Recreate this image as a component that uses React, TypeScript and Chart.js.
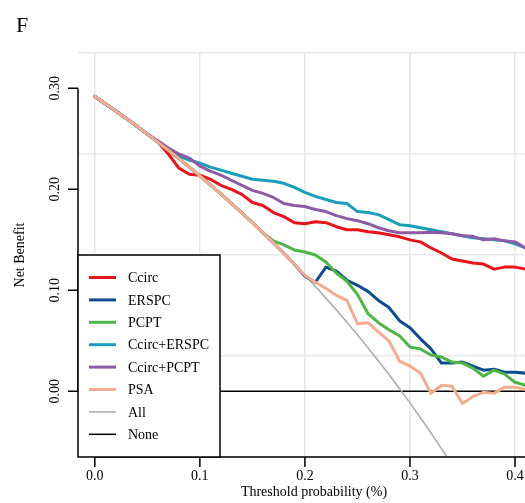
import { useEffect, useRef } from "react";
import { Chart, registerables } from "chart.js";

Chart.register(...registerables);

// Threshold probabilities (x)
const thresholds = [
  0, 0.01, 0.02, 0.03, 0.04, 0.05, 0.06, 0.07, 0.08, 0.09,
  0.1, 0.11, 0.12, 0.13, 0.14, 0.15, 0.16, 0.17, 0.18, 0.19,
  0.2, 0.21, 0.22, 0.23, 0.24, 0.25, 0.26, 0.27, 0.28, 0.29,
  0.3, 0.31, 0.32, 0.33, 0.34, 0.35, 0.36, 0.37, 0.38, 0.39,
  0.4, 0.41,
];

// Treat-all line (up to 0.34)
const allValues = [
  0.292, 0.2848, 0.2776, 0.2701, 0.2625, 0.2547, 0.2468, 0.2387, 0.2304, 0.222,
  0.2133, 0.2045, 0.1955, 0.1862, 0.1767, 0.1671, 0.1571, 0.147, 0.1366, 0.1259,
  0.115, 0.1038, 0.0923, 0.0805, 0.0684, 0.056, 0.0432, 0.0301, 0.0167, 0.0028,
  -0.0114, -0.0261, -0.0412, -0.0567, -0.0727,
];

const ccirc = [
  0.292, 0.2848, 0.2776, 0.2701, 0.2625, 0.2547, 0.2468, 0.235, 0.221, 0.215,
  0.214, 0.21, 0.204, 0.2, 0.195, 0.187, 0.184, 0.177, 0.173, 0.167,
  0.166, 0.168, 0.167, 0.163, 0.16, 0.16, 0.158, 0.157, 0.155, 0.153,
  0.15, 0.148, 0.142, 0.137, 0.131, 0.129, 0.127, 0.126, 0.121, 0.123,
  0.123, 0.121,
];

const erspc = [
  0.292, 0.2848, 0.2776, 0.2701, 0.2625, 0.2547, 0.2468, 0.2387, 0.2304, 0.222,
  0.2133, 0.2045, 0.1955, 0.1862, 0.1767, 0.1671, 0.1571, 0.147, 0.1366, 0.1259,
  0.114, 0.108, 0.123, 0.119, 0.11, 0.105, 0.099, 0.09, 0.083, 0.07,
  0.063, 0.052, 0.042, 0.028, 0.028, 0.029, 0.025, 0.021, 0.022, 0.019,
  0.019, 0.018,
];

const pcpt = [
  0.292, 0.2848, 0.2776, 0.2701, 0.2625, 0.2547, 0.2468, 0.2387, 0.2304, 0.222,
  0.2133, 0.2045, 0.1955, 0.1862, 0.1767, 0.1671, 0.1571, 0.149, 0.145, 0.14,
  0.138, 0.135, 0.128, 0.117, 0.109, 0.096, 0.077, 0.068, 0.061, 0.055,
  0.044, 0.042, 0.036, 0.034, 0.029, 0.028, 0.023, 0.015, 0.021, 0.017,
  0.009, 0.006,
];

const ccircErspc = [
  0.292, 0.2848, 0.2776, 0.2701, 0.2625, 0.2547, 0.2468, 0.239, 0.233, 0.229,
  0.226, 0.222, 0.219, 0.216, 0.213, 0.21, 0.209, 0.208, 0.206, 0.202,
  0.197, 0.193, 0.19, 0.187, 0.186, 0.178, 0.177, 0.175, 0.17, 0.165,
  0.164, 0.162, 0.16, 0.158, 0.156, 0.154, 0.152, 0.151, 0.15, 0.149,
  0.146, 0.142,
];

const ccircPcpt = [
  0.292, 0.2848, 0.2776, 0.2701, 0.2625, 0.2547, 0.248, 0.241, 0.235, 0.231,
  0.223, 0.218, 0.214, 0.209, 0.204, 0.199, 0.196, 0.192, 0.186, 0.184,
  0.183, 0.18, 0.178, 0.174, 0.171, 0.169, 0.166, 0.162, 0.159, 0.157,
  0.157, 0.157, 0.1575, 0.157, 0.156, 0.154, 0.1535, 0.15, 0.151, 0.149,
  0.148, 0.142,
];

const psa = [
  0.292, 0.2848, 0.2776, 0.2701, 0.2625, 0.2547, 0.2468, 0.2387, 0.2304, 0.222,
  0.2133, 0.2045, 0.1955, 0.1862, 0.1767, 0.1671, 0.1571, 0.147, 0.1366, 0.1259,
  0.115, 0.108, 0.102, 0.095, 0.09, 0.067, 0.068, 0.059, 0.05, 0.03,
  0.025, 0.018, -0.002, 0.006, 0.005, -0.012, -0.005, -0.001, -0.002, 0.004,
  0.004, 0.002,
];

const noneValues = [0, 0];
const noneThresholds = [0, 0.41];

const seriesNames = ["Ccirc", "ERSPC", "PCPT", "Ccirc+ERSPC", "Ccirc+PCPT", "PSA", "All", "None"];
const seriesColors = ["#E8141C", "#0C4C8E", "#4DB548", "#1A9DB7", "#8C5AA6", "#F4AC8F", "#AAAAAA", "#000000"];
const seriesWidths = [3, 3, 3, 3, 3, 3, 1.5, 1.5];

const xTicks = [0, 0.1, 0.2, 0.3, 0.4];
const xTickLabels = ["0.0", "0.1", "0.2", "0.3", "0.4"];
const yTicks = [0, 0.1, 0.2, 0.3];
const yTickLabels = ["0.00", "0.10", "0.20", "0.30"];

const panelLabel = "F";
const xTitle = "Threshold probability (%)";
const yTitle = "Net Benefit";

const SERIF = '"Liberation Serif", "Times New Roman", serif';

function pts(xs: number[], ys: number[]) {
  return ys.map((y, i) => ({ x: xs[i], y }));
}

const overlayPlugin = {
  id: "overlay",
  afterDraw(chart: any) {
    const ctx = chart.ctx as CanvasRenderingContext2D;
    const xs = chart.scales.x;
    const ys = chart.scales.y;
    const area = chart.chartArea;
    ctx.save();
    ctx.strokeStyle = "#000";
    ctx.fillStyle = "#000";
    ctx.lineWidth = 1.5;
    ctx.lineCap = "butt";
    ctx.font = "14px " + SERIF;

    // Y axis
    const yTop = ys.getPixelForValue(yTicks[yTicks.length - 1]);
    const yBot = ys.getPixelForValue(yTicks[0]);
    ctx.beginPath();
    ctx.moveTo(area.left, yTop);
    ctx.lineTo(area.left, yBot);
    yTicks.forEach((v) => {
      const py = ys.getPixelForValue(v);
      ctx.moveTo(area.left, py);
      ctx.lineTo(area.left - 10, py);
    });
    ctx.stroke();
    ctx.textAlign = "center";
    ctx.textBaseline = "middle";
    yTicks.forEach((v, i) => {
      const py = ys.getPixelForValue(v);
      ctx.save();
      ctx.translate(area.left - 23, py);
      ctx.rotate(-Math.PI / 2);
      ctx.fillText(yTickLabels[i], 0, 0);
      ctx.restore();
    });

    // X axis
    const xLeft = xs.getPixelForValue(xTicks[0]);
    ctx.beginPath();
    ctx.moveTo(xLeft, area.bottom);
    ctx.lineTo(area.right, area.bottom);
    xTicks.forEach((v) => {
      const px = xs.getPixelForValue(v);
      ctx.moveTo(px, area.bottom);
      ctx.lineTo(px, area.bottom + 10);
    });
    ctx.stroke();
    xTicks.forEach((v, i) => {
      const px = xs.getPixelForValue(v);
      ctx.fillText(xTickLabels[i], px, area.bottom + 19);
    });

    // Titles
    ctx.fillText(xTitle, 314, area.bottom + 35);
    ctx.save();
    ctx.translate(20, (area.top + area.bottom) / 2);
    ctx.rotate(-Math.PI / 2);
    ctx.fillText(yTitle, 0, 0);
    ctx.restore();

    ctx.font = "22px " + SERIF;
    ctx.textAlign = "left";
    ctx.textBaseline = "alphabetic";
    ctx.fillText(panelLabel, 16, 32);

    // Legend box
    const lx = area.left;
    const ly = 255;
    const lw = 142;
    const lh = area.bottom - ly;
    ctx.fillStyle = "#fff";
    ctx.fillRect(lx, ly, lw, lh);
    ctx.strokeStyle = "#000";
    ctx.lineWidth = 1.5;
    ctx.strokeRect(lx, ly, lw, lh);
    ctx.font = "14px " + SERIF;
    ctx.textAlign = "left";
    ctx.textBaseline = "middle";
    seriesNames.forEach((name, i) => {
      const ry = 277.5 + i * 22.4;
      ctx.beginPath();
      ctx.strokeStyle = seriesColors[i];
      ctx.lineWidth = seriesWidths[i];
      ctx.moveTo(89, ry);
      ctx.lineTo(116, ry);
      ctx.stroke();
      ctx.fillStyle = "#000";
      ctx.fillText(name, 128, ry + 1);
    });
    ctx.restore();
  },
};

export default function App() {
  const canvasRef = useRef<HTMLCanvasElement | null>(null);

  useEffect(() => {
    if (!canvasRef.current) return;
    const dataSeries = [ccirc, erspc, pcpt, ccircErspc, ccircPcpt, psa];
    const drawOrder = [6, 5, 4, 3, 2, 1];
    const datasets: any[] = dataSeries.map((vals, i) => ({
      label: seriesNames[i],
      data: pts(thresholds, vals),
      borderColor: seriesColors[i],
      borderWidth: seriesWidths[i],
      pointRadius: 0,
      tension: 0,
      fill: false,
      borderJoinStyle: "round",
      borderCapStyle: "round",
      order: drawOrder[i],
    }));
    datasets.push({
      label: seriesNames[6],
      data: pts(thresholds, allValues),
      borderColor: seriesColors[6],
      borderWidth: seriesWidths[6],
      pointRadius: 0,
      tension: 0,
      fill: false,
      order: 7,
    });
    datasets.push({
      label: seriesNames[7],
      data: pts(noneThresholds, noneValues),
      borderColor: seriesColors[7],
      borderWidth: seriesWidths[7],
      pointRadius: 0,
      tension: 0,
      fill: false,
      order: 8,
    });

    const chart = new Chart(canvasRef.current, {
      type: "line",
      data: { datasets },
      options: {
        responsive: false,
        animation: false,
        layout: { padding: { left: 78, top: 53, right: 0, bottom: 46 } },
        plugins: { legend: { display: false }, tooltip: { enabled: false } },
        scales: {
          x: {
            type: "linear",
            min: -0.016,
            max: 0.4095,
            ticks: { display: false, stepSize: 0.1, includeBounds: false },
            grid: { color: "#E8E8E8", lineWidth: 1.5, drawTicks: false },
            border: { display: false },
          },
          y: {
            type: "linear",
            min: -0.065,
            max: 0.335,
            ticks: { display: false, stepSize: 0.1, includeBounds: false },
            grid: { color: "#E8E8E8", lineWidth: 1.5, drawTicks: false },
            border: { display: false },
          },
        },
      },
      plugins: [overlayPlugin],
    });
    return () => chart.destroy();
  }, []);

  return (
    <div style={{ position: "fixed", left: 0, top: 0, width: 525, height: 503, background: "#fff" }}>
      <canvas ref={canvasRef} width={525} height={503} style={{ display: "block" }} />
    </div>
  );
}
